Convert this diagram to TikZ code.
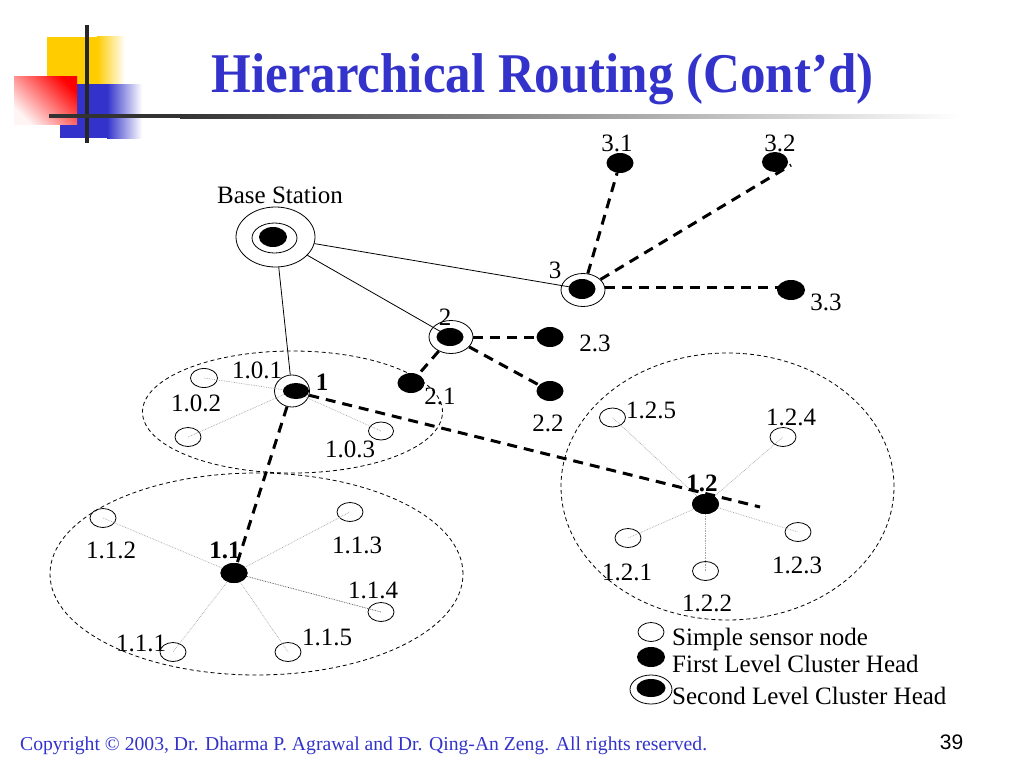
\documentclass[tikz,border=0pt]{standalone}
\usepackage{fontspec}
\setmainfont{Liberation Serif}
\newfontfamily\sansf{Liberation Sans}
\usetikzlibrary{shapes.geometric}
\definecolor{tblue}{RGB}{51,51,204}
\definecolor{lyellow}{RGB}{255,204,0}
\definecolor{lblue}{RGB}{51,51,204}
\begin{document}
\begin{tikzpicture}[x=1pt,y=-1pt,
  sensor/.style={ellipse,draw,line width=0.8pt,minimum width=26pt,minimum height=19pt,inner sep=0pt},
  head/.style={ellipse,fill=black,minimum width=27pt,minimum height=20pt,inner sep=0pt},
  ring/.style={ellipse,draw,line width=0.8pt,minimum width=44pt,minimum height=33pt,inner sep=0pt},
  lbl/.style={inner sep=0pt,font=\fontsize{25}{25}\selectfont},
  blbl/.style={inner sep=0pt,font=\fontsize{25}{25}\selectfont\bfseries},
  link/.style={line width=0.8pt},
  hop/.style={line width=3pt,dash pattern=on 10pt off 7pt},
  member/.style={draw=black!35,line width=0.7pt,densely dotted},
  member2/.style={draw=black!75,line width=0.7pt,densely dotted},
  cluster/.style={ellipse,draw,line width=0.8pt,dash pattern=on 4pt off 3pt,inner sep=0pt}
]
\useasboundingbox[fill=white] (0,0) rectangle (1024,768);

% logo
\fill[lyellow] (47,37) rectangle (97,84);
\shade[left color=lyellow,right color=white] (97,37) rectangle (125,84);
\fill[lblue] (60,84) rectangle (107,138);
\shade[left color=lblue,right color=white] (107,84) rectangle (142,138);
\shade[top color=red,bottom color=red!4,shading angle=-45] (14,76) rectangle (77,124);
\fill[black!85] (85,25) rectangle (89,143);
\fill[black!80] (49,114) rectangle (180,118);
\shade[left color=black!80,right color=white] (180,114) rectangle (960,118);

% title
\node[anchor=base,inner sep=0pt,text=tblue,font=\fontsize{51}{51}\selectfont\bfseries] (title) at (542.5,92) {\scalebox{1}[1.1]{Hierarchical Routing (Cont’d)}};

% clusters
\node[cluster,minimum width=300pt,minimum height=122pt] (cl1) at (292.5,412) {};
\node[cluster,minimum width=413pt,minimum height=202pt] (cl11) at (256.5,574) {};
\node[cluster,minimum width=333pt,minimum height=267pt] (cl12) at (727.5,486.5) {};

% base station
\node[ellipse,draw,line width=0.8pt,minimum width=79pt,minimum height=60pt,inner sep=0pt] (bs) at (275.5,237) {};
\node[ellipse,draw,line width=0.8pt,minimum width=45pt,minimum height=30pt,inner sep=0pt] (bsi) at (274.5,238) {};
\node[head,minimum width=28pt] (bsc) at (273,237) {};
\node[lbl] (bslbl) at (280,195) {Base Station};

% second level heads
\node[ring] (r3) at (583,290) {};
\node[ring] (r2) at (451,337) {};
\node[ring,minimum width=35pt,minimum height=32pt] (r1) at (292,391) {};

% first level heads
\node[head] (n31) at (620,163) {};
\node[head,minimum width=26pt] (n32) at (775,162) {};
\node[head,minimum width=28pt] (n33) at (791,290) {};
\node[head] (n23) at (550,337) {};
\node[head] (n22) at (550,391) {};
\node[head] (n21) at (411,383) {};
\node[head] (n11) at (234,573) {};
\node[head] (n12) at (705.5,504) {};

% sensors
\node[sensor,minimum width=27pt] (s102) at (204,378) {};
\node[sensor] (s10b) at (188,437) {};
\node[sensor,minimum width=25pt,minimum height=18pt] (s103) at (381,431) {};
\node[sensor] (s112) at (103,518) {};
\node[sensor] (s113) at (350,512) {};
\node[sensor] (s114) at (381,612) {};
\node[sensor] (s115) at (288,652) {};
\node[sensor] (s111) at (173,652) {};
\node[sensor] (s125) at (612.5,417.5) {};
\node[sensor] (s124) at (783,437) {};
\node[sensor] (s123) at (798,532) {};
\node[sensor] (s122) at (705.5,571) {};
\node[sensor] (s121) at (628,538) {};

% member links
\draw[member] (s102.center) -- (292,391);
\draw[member] (s10b.center) -- (292,391);
\draw[member] (s103.center) -- (292,391);
\draw[member] (n11.center) -- (s112.center);
\draw[member] (n11.center) -- (s113.center);
\draw[member2] (n11.center) -- (s114.center);
\draw[member] (n11.center) -- (s115.center);
\draw[member] (n11.center) -- (s111.center);
\draw[member] (n12.center) -- (s125.center);
\draw[member] (n12.center) -- (s124.center);
\draw[member] (n12.center) -- (s123.center);
\draw[member] (n12.center) -- (s122.center);
\draw[member] (n12.center) -- (s121.center);

% inner fills of second level heads (on top of member lines)
\node[head] (n3) at (582,289) {};
\node[head,minimum height=18pt] (n2) at (450,337) {};
\node[head,minimum width=26pt,minimum height=16pt] (n1) at (296,391) {};
\node[head] at (234,573) {};
\node[head] at (705.5,504) {};

% base station links
\draw[link] (bs) -- (n3.center);
\draw[link] (bs) -- (n2.center);
\draw[link] (bs) -- (r1);

% hops
\coordinate (e32) at (791,165);
\coordinate (e33) at (806,287);
\coordinate (s33) at (605,287);
\coordinate (e12) at (760,507);
\draw[hop] (r3) -- (n31);
\draw[hop] (r3) -- (e32);
\draw[hop] (s33) -- (e33);
\draw[hop] (r2) -- (n23);
\draw[hop] (r2) -- (n22);
\draw[hop] (r2) -- (n21);
\draw[hop] (r1) -- (n11);
\draw[hop] (r1) -- (e12);

% labels
\node[lbl] (l3) at (555,270) {3};
\node[lbl] (l2) at (445,317) {2};
\node[lbl] (l31) at (617,143) {3.1};
\node[lbl] (l32) at (780,143) {3.2};
\node[lbl] (l33) at (826,302) {3.3};
\node[lbl] (l23) at (595,343) {2.3};
\node[lbl] (l22) at (548,423) {2.2};
\node[lbl] (l21) at (440,396) {2.1};
\node[lbl] (l101) at (257,370) {1.0.1};
\node[lbl] (l102) at (196,403) {1.0.2};
\node[lbl] (l103) at (350,449) {1.0.3};
\node[blbl] (l1) at (322,382) {1};
\node[blbl] (l11) at (225,550) {1.1};
\node[lbl] (l112) at (111,550) {1.1.2};
\node[lbl] (l113) at (357,545) {1.1.3};
\node[lbl] (l114) at (373,590) {1.1.4};
\node[lbl] (l115) at (327,637) {1.1.5};
\node[lbl] (l111) at (141,643) {1.1.1};
\node[blbl] (l12) at (702,483) {1.2};
\node[lbl] (l125) at (651,410) {1.2.5};
\node[lbl] (l124) at (791,417) {1.2.4};
\node[lbl] (l123) at (797,565) {1.2.3};
\node[lbl] (l122) at (707,603) {1.2.2};
\node[lbl] (l121) at (627,572) {1.2.1};

% legend
\node[sensor] (ks) at (651,632) {};
\node[head,minimum width=28pt] (kh) at (651,657) {};
\node[ellipse,draw,line width=0.8pt,minimum width=42pt,minimum height=29pt,inner sep=0pt] (kr) at (651,689.5) {};
\node[head,minimum width=29pt,minimum height=18pt] (krh) at (651,688) {};
\node[lbl,anchor=base west] (kt1) at (672,645) {Simple sensor node};
\node[lbl,anchor=base west] (kt2) at (672,672) {First Level Cluster Head};
\node[lbl,anchor=base west] (kt3) at (672,704) {Second Level Cluster Head};

% footer
\node[anchor=base west,inner sep=0pt,text=tblue] (foot) at (20,750) {\resizebox{687pt}{!}{\fontsize{18}{18}\selectfont Copyright © 2003, Dr. Dharma P. Agrawal and Dr. Qing-An Zeng. All rights reserved.}};
\node[inner sep=0pt,font=\sansf\fontsize{21}{21}\selectfont] (pg) at (951.5,742.5) {39};
\end{tikzpicture}
\end{document}
